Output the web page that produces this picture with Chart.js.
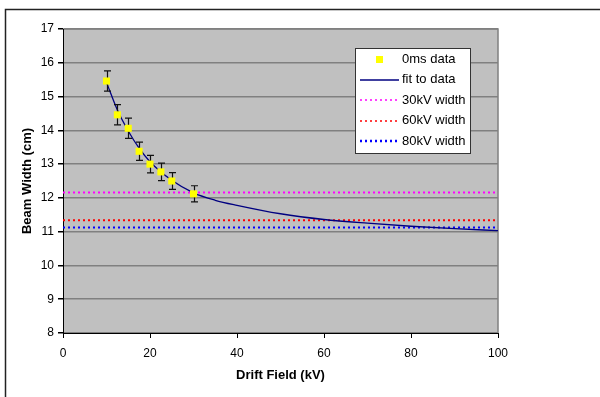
<!DOCTYPE html>
<html>
<head>
<meta charset="utf-8">
<script src="https://cdn.jsdelivr.net/npm/chart.js@4.4.1/dist/chart.umd.min.js"></script>
<style>
  html, body { margin: 0; padding: 0; background: #fff; }
  #wrap { position: relative; width: 600px; height: 397px; }
</style>
</head>
<body>
<div id="wrap"><canvas id="chart" width="600" height="397"></canvas></div>
<script>
// measured data (Drift Field kV -> Beam Width cm)
const fieldKV = [10, 12.5, 15, 17.5, 20, 22.5, 25, 30];
const beamWidth = [15.46, 14.46, 14.06, 13.38, 13.0, 12.77, 12.5, 12.12];
const beamErr = [0.3, 0.3, 0.3, 0.27, 0.26, 0.26, 0.25, 0.24];

// fit curve
const fitKV = [10, 12.5, 15, 17.5, 20, 25, 30, 35, 40, 50, 60, 70, 80, 90, 100];
const fitWidth = [15.42, 14.6, 13.98, 13.47, 13.07, 12.52, 12.15, 11.93, 11.78, 11.53, 11.36, 11.25, 11.16, 11.09, 11.03];

// reference widths
const width30 = 12.16;
const width60 = 11.34;
const width80 = 11.12;
const lineKV = [0, 100];

const xTicks = [0, 20, 40, 60, 80, 100];
const yTicks = [8, 9, 10, 11, 12, 13, 14, 15, 16, 17];

const FONT = "'Liberation Sans', Arial, sans-serif";
Chart.defaults.font.family = FONT;
Chart.defaults.color = "#000";

const pts = (xs, ys) => xs.map((x, i) => ({ x, y: ys[i] }));
const flat = (v) => lineKV.map((x) => ({ x, y: v }));

const frame = {
  id: "frame",
  beforeDraw(chart) {
    const { ctx, chartArea: a } = chart;
    ctx.save();
    ctx.fillStyle = "#c0c0c0";
    ctx.fillRect(a.left, a.top, a.right - a.left, a.bottom - a.top);
    ctx.strokeStyle = "#808080";
    ctx.lineWidth = 1.5;
    ctx.beginPath();
    ctx.moveTo(a.left, a.top);
    ctx.lineTo(a.right, a.top);
    ctx.lineTo(a.right, a.bottom);
    ctx.stroke();
    // outer page frame
    ctx.strokeStyle = "#222";
    ctx.lineWidth = 1.5;
    ctx.beginPath();
    ctx.moveTo(5.5, 397);
    ctx.lineTo(5.5, 9.5);
    ctx.lineTo(600, 9.5);
    ctx.stroke();
    ctx.restore();
  },
};

const errorBars = {
  id: "errorBars",
  beforeDatasetDraw(chart, args) {
    if (args.index !== 0) return;
    const { ctx, scales } = chart;
    ctx.save();
    ctx.strokeStyle = "#111";
    ctx.lineWidth = 1.2;
    fieldKV.forEach((kv, i) => {
      const x = Math.round(scales.x.getPixelForValue(kv)) + 0.5;
      const y1 = scales.y.getPixelForValue(beamWidth[i] + beamErr[i]);
      const y2 = scales.y.getPixelForValue(beamWidth[i] - beamErr[i]);
      ctx.beginPath();
      ctx.moveTo(x, y1);
      ctx.lineTo(x, y2);
      ctx.moveTo(x - 3.5, y1);
      ctx.lineTo(x + 3.5, y1);
      ctx.moveTo(x - 3.5, y2);
      ctx.lineTo(x + 3.5, y2);
      ctx.stroke();
    });
    ctx.restore();
  },
};

const boxLegend = {
  id: "boxLegend",
  afterDraw(chart) {
    const { ctx } = chart;
    const L = 355, T = 48, W = 115, H = 105;
    ctx.save();
    ctx.fillStyle = "#fff";
    ctx.fillRect(L, T, W, H);
    ctx.strokeStyle = "#333";
    ctx.lineWidth = 1;
    ctx.strokeRect(L + 0.5, T + 0.5, W, H);
    ctx.font = "13px " + FONT;
    ctx.textBaseline = "middle";
    chart.data.datasets.forEach((ds, i) => {
      const y = 59 + i * 20.5;
      if (ds.showLine === false) {
        ctx.fillStyle = ds.backgroundColor;
        ctx.fillRect(376, y - 3, 7, 7);
      } else {
        ctx.strokeStyle = ds.borderColor;
        ctx.lineWidth = ds.legendWidth || 1;
        ctx.setLineDash(ds.borderDash || []);
        ctx.beginPath();
        ctx.moveTo(360, Math.round(y));
        ctx.lineTo(399, Math.round(y));
        ctx.stroke();
        ctx.setLineDash([]);
      }
      ctx.fillStyle = "#000";
      ctx.fillText(ds.label, 402, y);
    });
    ctx.restore();
  },
};

new Chart(document.getElementById("chart"), {
  type: "scatter",
  data: {
    datasets: [
      {
        label: "0ms data",
        data: pts(fieldKV, beamWidth),
        showLine: false,
        pointStyle: "rect",
        pointRadius: 5,
        backgroundColor: "#ffff00",
        borderColor: "#ffff00",
        borderWidth: 0,
        order: 1,
      },
      {
        label: "fit to data",
        data: pts(fitKV, fitWidth),
        showLine: true,
        pointRadius: 0,
        borderColor: "#000080",
        borderWidth: 1.3,
        cubicInterpolationMode: "monotone",
        legendWidth: 1.5,
        order: 2,
      },
      {
        label: "30kV width",
        data: flat(width30),
        showLine: true,
        pointRadius: 0,
        borderColor: "#ff00ff",
        borderWidth: 2,
        borderDash: [2, 3],
        legendWidth: 1.5,
        order: 3,
      },
      {
        label: "60kV width",
        data: flat(width60),
        showLine: true,
        pointRadius: 0,
        borderColor: "#ff0000",
        borderWidth: 2,
        borderDash: [2, 3],
        legendWidth: 1.5,
        order: 4,
      },
      {
        label: "80kV width",
        data: flat(width80),
        showLine: true,
        pointRadius: 0,
        borderColor: "#0000ff",
        borderWidth: 2,
        borderDash: [2, 3],
        legendWidth: 2.5,
        order: 5,
      },
    ],
  },
  options: {
    responsive: false,
    animation: false,
    layout: { padding: { top: 29, right: 102, left: 0, bottom: 0 } },
    plugins: { legend: { display: false }, tooltip: { enabled: false } },
    scales: {
      x: {
        type: "linear",
        min: 0,
        max: 100,
        afterBuildTicks: (s) => { s.ticks = xTicks.map((v) => ({ value: v })); },
        afterFit: (s) => { s.height = 64; },
        grid: { drawOnChartArea: false, tickLength: 5, tickColor: "#000" },
        border: { color: "#000", width: 1 },
        ticks: { font: { size: 12 }, padding: 8, color: "#000", maxRotation: 0 },
        title: {
          display: true,
          text: "Drift Field (kV)",
          font: { size: 13, weight: "bold" },
          color: "#000",
          padding: { top: 0, bottom: 14 },
        },
      },
      y: {
        type: "linear",
        min: 8,
        max: 17,
        afterBuildTicks: (s) => { s.ticks = yTicks.map((v) => ({ value: v })); },
        afterFit: (s) => { s.width = 63; },
        grid: { color: "#808080", lineWidth: 1.5, tickLength: 5, tickColor: "#000" },
        border: { color: "#000", width: 1 },
        ticks: { font: { size: 12 }, padding: 4, color: "#000" },
        title: {
          display: true,
          text: "Beam Width (cm)",
          font: { size: 13, weight: "bold" },
          color: "#000",
          padding: { top: 20, bottom: 0 },
        },
      },
    },
  },
  plugins: [frame, errorBars, boxLegend],
});
</script>
</body>
</html>
